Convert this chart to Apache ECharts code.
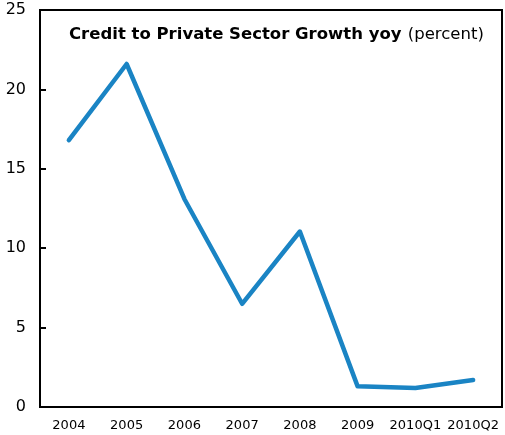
<!DOCTYPE html>
<html lang="en">
<head>
    <meta charset="UTF-8">
    <title>Credit to Private Sector Growth</title>
    <script src="https://cdn.jsdelivr.net/npm/echarts@6/dist/echarts.min.js"></script>
    <style>
        html, body { margin: 0; padding: 0; background: #fff; }
        #chart { width: 505px; height: 435px; }
    </style>
</head>
<body>
    <div id="chart"></div>
    <script>
        // 数据
        let categories = ['2004', '2005', '2006', '2007', '2008', '2009', '2010Q1', '2010Q2'];
        let creditGrowth = [16.8, 21.6, 13.1, 6.5, 11.05, 1.3, 1.2, 1.7];
        let yTicks = [0, 5, 10, 15, 20, 25];

        let chart = echarts.init(document.getElementById('chart'));
        chart.setOption({
            animation: false,
            textStyle: { fontFamily: 'DejaVu Sans' },
            title: {
                text: '{b|Credit to Private Sector Growth yoy} {n|(percent)}',
                left: 64,
                top: 21,
                textStyle: {
                    rich: {
                        b: { fontSize: 16.5, fontWeight: 'bold', color: '#000', fontFamily: 'DejaVu Sans' },
                        n: { fontSize: 16.5, fontWeight: 'normal', color: '#000', fontFamily: 'DejaVu Sans' }
                    }
                }
            },
            grid: {
                left: 40, right: 3, top: 10, bottom: 28,
                show: true,
                borderColor: '#000',
                borderWidth: 2
            },
            xAxis: {
                type: 'category',
                data: categories,
                axisLine: { lineStyle: { color: '#000', width: 2 } },
                axisTick: { inside: true, length: 6, lineStyle: { color: '#000', width: 2 } },
                axisLabel: { color: '#000', fontSize: 13, margin: 12, interval: 0 },
                splitLine: { show: false }
            },
            yAxis: {
                type: 'value',
                min: yTicks[0],
                max: yTicks[yTicks.length - 1],
                interval: 5,
                axisLine: { show: true, lineStyle: { color: '#000', width: 2 } },
                axisTick: { show: true, inside: true, length: 6, lineStyle: { color: '#000', width: 2 } },
                axisLabel: { color: '#000', fontSize: 16, margin: 14 },
                splitLine: { show: false }
            },
            series: [{
                name: 'Credit growth',
                type: 'line',
                data: creditGrowth,
                symbol: 'none',
                lineStyle: { color: '#1a84c4', width: 4.5, cap: 'round', join: 'round' }
            }]
        });
    </script>
</body>
</html>
